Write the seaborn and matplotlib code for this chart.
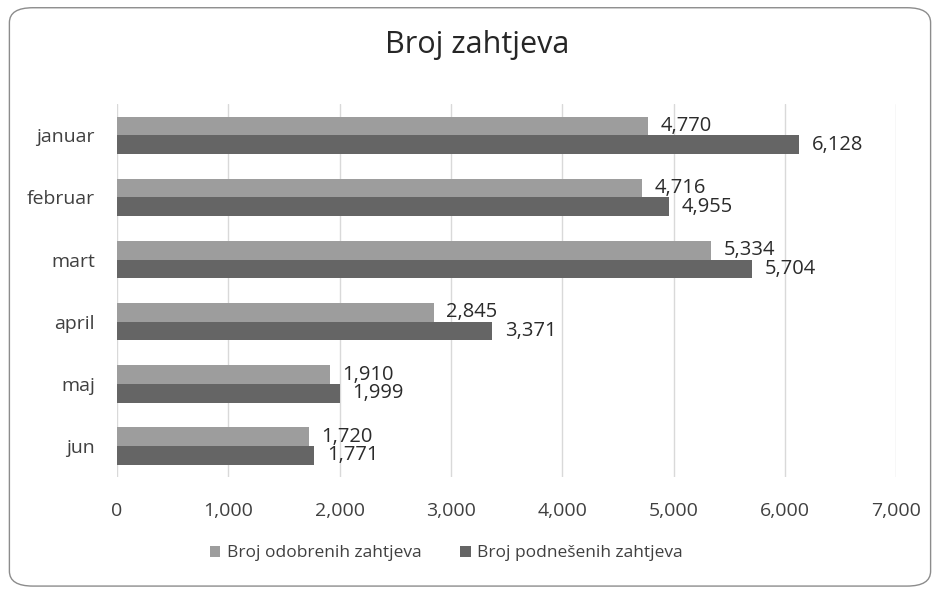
import pandas as pd
import matplotlib.pyplot as plt
from matplotlib.patches import FancyBboxPatch
from matplotlib.ticker import FuncFormatter
import seaborn as sns

# data
months = ['januar', 'februar', 'mart', 'april', 'maj', 'jun']
odobreni = [4770, 4716, 5334, 2845, 1910, 1720]
podneseni = [6128, 4955, 5704, 3371, 1999, 1771]
series = ['Broj odobrenih zahtjeva', 'Broj podnešenih zahtjeva']
colors = ['#9d9d9d', '#656565']

df = pd.DataFrame({
    'mjesec': months * 2,
    'vrijednost': odobreni + podneseni,
    'serija': [series[0]] * len(months) + [series[1]] * len(months),
})

sns.set_theme(style='white')
plt.rcParams['font.family'] = ['Open Sans', 'DejaVu Sans']

fig = plt.figure(figsize=(9.4, 5.95), dpi=100)
ax = fig.add_axes([0.1245, 0.198, 0.829, 0.627])

# rounded chart frame
frame = FancyBboxPatch((0.010, 0.015), 0.980, 0.972, boxstyle='round,pad=0,rounding_size=0.025',
                       transform=fig.transFigure, facecolor='none', edgecolor='#8c8c8c', linewidth=1.0)
fig.patches.append(frame)

sns.barplot(data=df, y='mjesec', x='vrijednost', hue='serija', palette=colors,
            orient='h', width=0.6, ax=ax, saturation=1, linewidth=0, legend=True)

for cont in ax.containers:
    ax.bar_label(cont, labels=[f'{int(v):,}' for v in cont.datavalues], padding=9,
                 fontsize=14.5, color='#2b2b2b')

ax.set_xlim(0, 7000)
ax.set_xticks(range(0, 7001, 1000))
ax.xaxis.set_major_formatter(FuncFormatter(lambda x, pos: f'{int(x):,}'))
ax.grid(axis='x', color='#d9d9d9', linewidth=1)
ax.set_axisbelow(True)
for s in ax.spines.values():
    s.set_visible(False)
ax.tick_params(axis='both', length=0, labelsize=14, labelcolor='#404040')
ax.tick_params(axis='x', pad=18)
ax.tick_params(axis='y', pad=16)
ax.set_xlabel('')
ax.set_ylabel('')

fig.text(0.508, 0.924, 'Broj zahtjeva', ha='center', va='center', fontsize=22, color='#262626')

handles, labels = ax.get_legend_handles_labels()
ax.get_legend().remove()
fig.legend(handles, labels, loc='center', bbox_to_anchor=(0.475, 0.07), ncol=2, frameon=False,
           fontsize=12.5, handlelength=0.6, handleheight=0.6, handletextpad=0.4, columnspacing=2.2,
           labelcolor='#404040')

fig.savefig('out.png', dpi=100)
